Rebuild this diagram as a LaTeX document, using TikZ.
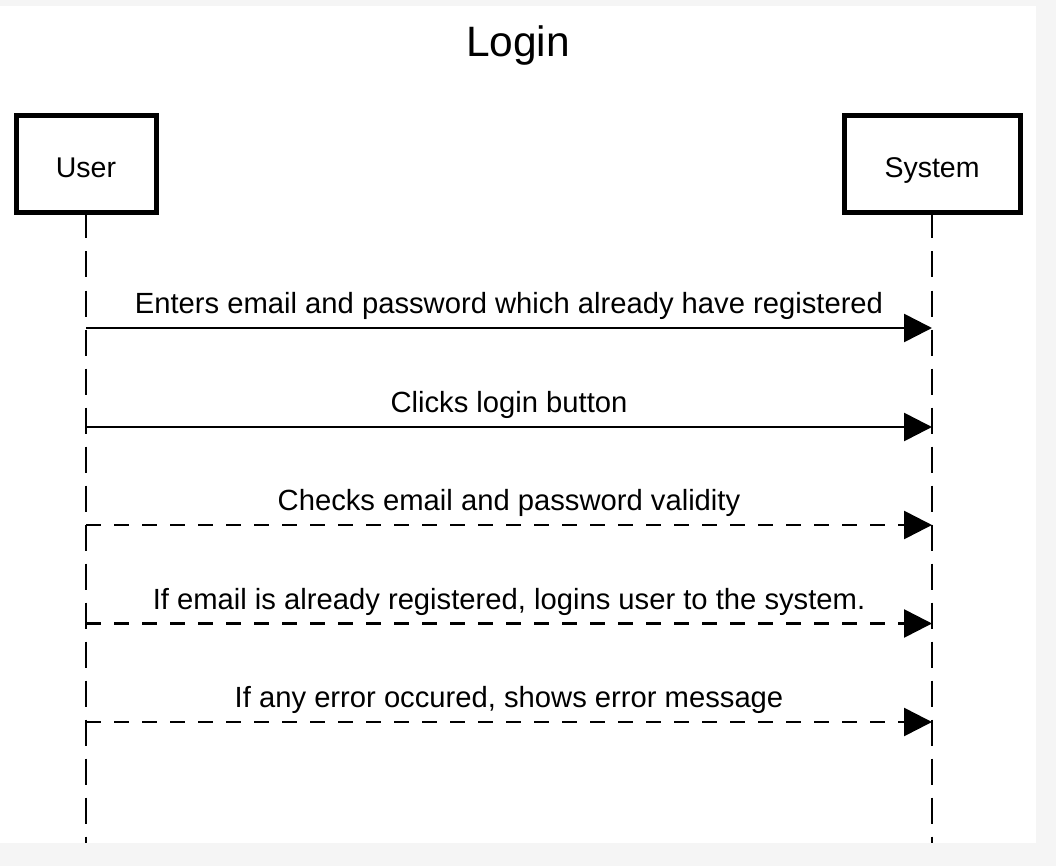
\documentclass[tikz,border=0pt]{standalone}
\usepackage{fontspec}
\setmainfont{Liberation Sans}
\usetikzlibrary{arrows.meta}
\definecolor{pagegray}{HTML}{F5F5F5}

\begin{document}
\begin{tikzpicture}[x=1pt,y=-1pt,
  actor/.style={draw=black,line width=5pt,fill=white,inner sep=0pt,
    minimum height=97pt,text height=26pt,text depth=0pt,font=\fontsize{28.5}{32}\selectfont},
  lifeline/.style={line width=2.6pt,dash pattern=on 26pt off 13pt,dash phase=3pt},
  msg/.style={line width=2.6pt,-{Triangle[length=28pt,width=28pt]}},
  reply/.style={msg,dash pattern=on 15pt off 13pt},
  msglabel/.style={anchor=base,yshift=14.5pt,inner sep=0pt,font=\fontsize{29.2}{33}\selectfont}]
\useasboundingbox (0,0) rectangle (1056,866);
\fill [pagegray] (0,0) rectangle (1056,866);
\fill [white] (0,6) rectangle (1036,843);
% title
\node [anchor=base,font=\fontsize{42.5}{48}\selectfont] (title) at (518,56.5) {Login};
% actors
\node [actor,minimum width=140pt] (user) at (86,164.5) {User};
\node [actor,minimum width=176pt] (system) at (932,164.5) {System};
\coordinate (userend) at (user.south |- 0,843);
\coordinate (sysend) at (system.south |- 0,843);
\draw [lifeline] (user.south) -- (userend);
\draw [lifeline] (system.south) -- (sysend);
% message rows
\foreach \n/\y in {1/328,2/427,3/525,4/623.5,5/722} {
  \coordinate (u\n) at (user.south |- 0,\y);
  \coordinate (s\n) at (system.south |- 0,\y);
}
\draw [msg] (u1) -- node [msglabel] {Enters email and password which already have registered} (s1);
\draw [msg] (u2) -- node [msglabel] {Clicks login button} (s2);
\draw [reply] (u3) -- node [msglabel] {Checks email and password validity} (s3);
\draw [reply] (u4) -- node [msglabel] {If email is already registered, logins user to the system.} (s4);
\draw [reply] (u5) -- node [msglabel] {If any error occured, shows error message} (s5);
\end{tikzpicture}
\end{document}
